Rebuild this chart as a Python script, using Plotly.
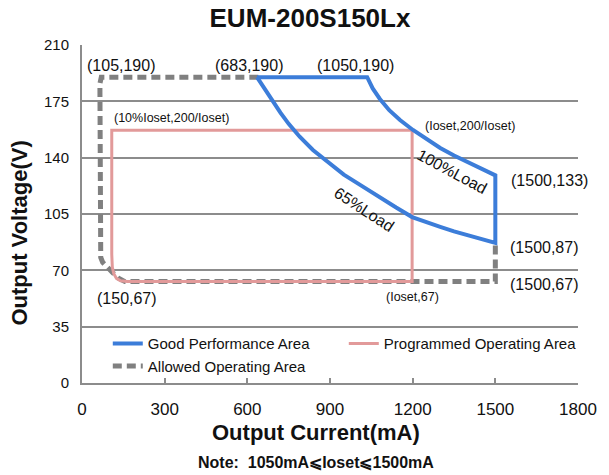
import plotly.graph_objects as go

# ---- data ----
good_x = [635, 1035, 1055, 1081, 1115, 1154, 1201, 1250, 1300, 1350, 1400, 1450, 1500,
          1500, 1450, 1400, 1350, 1300, 1250, 1198, 1140, 1081, 1015, 950, 895, 838, 790, 750, 720, 690, 660, 635]
good_y = [190, 190, 183, 176.5, 169.5, 163.4, 157.2, 151.5, 146, 141.3, 137, 133, 129,
          87, 89.2, 91.5, 94.2, 97, 100, 103.1, 109, 115.6, 122.5, 129.5, 137, 144.8, 153, 161, 168, 176, 183.5, 190]

prog_x = [1198, 108, 108, 110, 115, 125, 140, 165, 1198, 1198]
prog_y = [157, 157, 80, 72, 68, 65, 63.5, 63, 63, 157]

allowed_x = [640, 70, 65, 65, 68, 75, 90, 109, 131, 156, 1500, 1500]
allowed_y = [190, 190, 186, 83, 78, 75, 72, 69, 65.2, 63, 63, 86]

x_ticks = [0, 300, 600, 900, 1200, 1500, 1800]
y_ticks = [0, 35, 70, 105, 140, 175, 210]

# annotation labels: (text, x, y, size)
point_labels = [
    ("(105,190)", 145, 197, 16),
    ("(683,190)", 608, 197, 16),
    ("(1050,190)", 994, 197, 16),
    ("(10%Ioset,200/Ioset)", 326, 164.6, 12.5),
    ("(Ioset,200/Ioset)", 1408, 159.7, 12.5),
    ("(1500,133)", 1696, 126, 16),
    ("(1500,87)", 1677, 83.9, 16),
    ("(1500,67)", 1677, 60.9, 16),
    ("(150,67)", 165, 52.8, 16),
    ("(Ioset,67)", 1199, 53.4, 12.5),
]
curve_labels = [
    ("100%Load", 1343, 131.7, 28),
    ("65%Load", 1023, 107.5, 33),
]

FONT = "Liberation Sans, Arial, sans-serif"
BLUE = "#3C7DD9"
PINK = "#E29A9A"
GRAY = "#808080"
GRID = "#8C8C8C"

fig = go.Figure()
fig.add_trace(go.Scatter(x=allowed_x, y=allowed_y, mode="lines", name="Allowed Operating Area",
                         legendrank=3, line=dict(color=GRAY, width=5, dash="9px,5px")))
fig.add_trace(go.Scatter(x=prog_x, y=prog_y, mode="lines", name="Programmed Operating Area",
                         legendrank=2, line=dict(color=PINK, width=3)))
fig.add_trace(go.Scatter(x=good_x, y=good_y, mode="lines", name="Good Performance Area",
                         legendrank=1, line=dict(color=BLUE, width=4)))

annotations = []
for t, x, y, s in point_labels:
    annotations.append(dict(text=t, x=x, y=y, xref="x", yref="y", showarrow=False,
                            xanchor="center", yanchor="middle",
                            font=dict(size=s, color="#111", family=FONT)))
for t, x, y, a in curve_labels:
    annotations.append(dict(text=t, x=x, y=y, xref="x", yref="y", showarrow=False,
                            xanchor="center", yanchor="middle",
                            textangle=a, font=dict(size=16, color="#111", family=FONT)))
annotations.append(dict(text="<b>Output Current(mA)</b>", x=0.472, y=-0.145, xref="paper", yref="paper",
                        xanchor="center", yanchor="middle",
                        showarrow=False, font=dict(size=22, color="#111", family=FONT)))
annotations.append(dict(text="<b>Output Voltage(V)</b>", x=-0.125, y=0.442, xref="paper", yref="paper",
                        xanchor="center", yanchor="middle",
                        showarrow=False, textangle=-90, font=dict(size=22, color="#111", family=FONT)))
annotations.append(dict(text="<b>Note:  1050mA⩽Ioset⩽1500mA</b>", x=0.472, y=-0.234, xref="paper", yref="paper",
                        xanchor="center", yanchor="middle",
                        showarrow=False, font=dict(size=16, color="#111", family=FONT)))

fig.update_layout(
    template="none",
    width=609, height=475,
    margin=dict(l=82, r=31, t=45, b=92, autoexpand=False),
    paper_bgcolor="white", plot_bgcolor="white",
    font=dict(family=FONT, color="#111"),
    title=dict(text="<b>EUM-200S150Lx</b>", xref="container", x=0.509, xanchor="center",
               yref="container", y=0.962, yanchor="middle",
               font=dict(size=26, family=FONT, color="#111")),
    showlegend=True,
    legend=dict(orientation="h", x=0.052, xanchor="left", y=0.165, yanchor="top",
                entrywidth=191, traceorder="normal", bgcolor="rgba(0,0,0,0)",
                font=dict(size=15, family=FONT, color="#111")),
    annotations=annotations,
)
fig.update_xaxes(range=[0, 1800], tickvals=x_ticks, ticktext=[str(v) for v in x_ticks],
                 automargin=False,
                 showgrid=False, zeroline=False, showline=True, linecolor=GRID, linewidth=2,
                 ticks="inside", ticklen=5, tickwidth=2, tickcolor=GRID,
                 tickfont=dict(size=17, family=FONT, color="#111"), ticklabelstandoff=10)
fig.update_yaxes(range=[0, 210], tickvals=y_ticks, ticktext=[str(v) for v in y_ticks],
                 automargin=False,
                 showgrid=True, gridcolor=GRID, gridwidth=1.5, zeroline=False,
                 showline=True, linecolor=GRID, linewidth=2, ticks="",
                 tickfont=dict(size=15, family=FONT, color="#111"), ticklabelstandoff=8)

fig.write_html("out.html", config={"displayModeBar": False},
               post_script="document.body.style.margin='0px';")
